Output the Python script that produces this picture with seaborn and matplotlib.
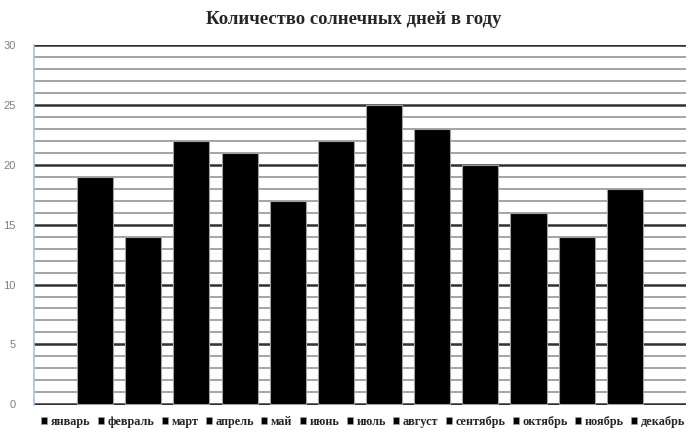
import numpy as np
import pandas as pd
import seaborn as sns
import matplotlib.pyplot as plt
from matplotlib.patches import Patch
from matplotlib.ticker import MultipleLocator

# data
months = ["январь", "февраль", "март", "апрель", "май", "июнь",
          "июль", "август", "сентябрь", "октябрь", "ноябрь", "декабрь"]
days = [19, 14, 22, 21, 17, 22, 25, 23, 20, 16, 14, 18]

df = pd.DataFrame({"month": months, "days": days})

sns.set_style("white")
plt.rcParams["font.family"] = ["Liberation Serif", "DejaVu Serif"]

fig = plt.figure(figsize=(6.89, 4.41), dpi=100)
ax = fig.add_axes([0.0493, 0.0816, 0.9463, 0.8164])

sns.barplot(data=df, x="month", y="days", hue="month", order=months,
            palette=["black"] * 12, legend=False, width=0.75,
            edgecolor="#a0a0a0", linewidth=0.8, ax=ax)

ax.set_xlim(-1.27, 12.27)
ax.set_ylim(-0.06, 30)
ax.yaxis.set_major_locator(MultipleLocator(5))
ax.yaxis.set_minor_locator(MultipleLocator(1))
ax.set_axisbelow(True)
ax.grid(which="major", axis="y", color="#303030", linewidth=1.8)
ax.grid(which="minor", axis="y", color="#959595", linewidth=1.2)
ax.set_xticks([])
ax.set_xlabel("")
ax.set_ylabel("")
ax.tick_params(axis="y", which="both", length=0, labelsize=8, labelcolor="#7f7f7f", pad=13)
for lab in ax.get_yticklabels():
    lab.set_family(["Liberation Sans", "DejaVu Sans"])

for s in ["top", "right", "bottom"]:
    ax.spines[s].set_visible(False)
ax.spines["left"].set_color("#9dc3e6")
ax.spines["left"].set_linewidth(1.2)

fig.text(0.513, 0.955, "Количество солнечных дней в году", ha="center", va="center",
         fontsize=13.5, fontweight="bold")

handles = [Patch(facecolor="black", edgecolor="#a0a0a0", linewidth=0.5) for m in months]
fig.legend(handles, months, loc="center", bbox_to_anchor=(0.527, 0.043), ncol=12,
           frameon=False, handlelength=0.5, handleheight=0.5,
           handletextpad=0.3, columnspacing=0.6, prop={"weight": "bold", "size": 8.8})

fig.savefig("out.png", dpi=100)
